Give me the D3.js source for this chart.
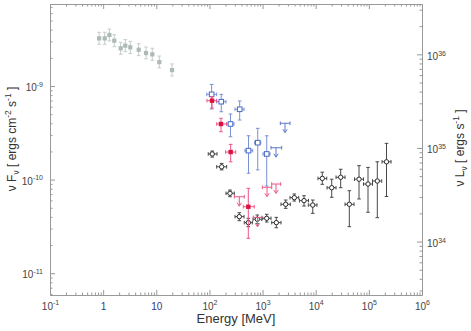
<!DOCTYPE html>
<html>
<head>
<meta charset="utf-8">
<script src="https://cdn.jsdelivr.net/npm/d3@7"></script>
<style>
  body { margin: 0; background: #fff; }
  svg { display: block; font-family: "Liberation Sans", Arial, sans-serif; }
</style>
</head>
<body>
<svg id="chart" width="471" height="331"></svg>
<script>
// ---- data (energy in MeV, nuFnu in erg cm^-2 s^-1) ----
const greyE = [0.84, 1.07, 1.31, 1.62, 2.14, 2.61, 3.24, 4.67, 6.41, 8.41, 11.4, 19.8]
const greyF = [3.23e-9, 3.23e-9, 3.51e-9, 3.05e-9, 2.53e-9, 2.70e-9, 2.59e-9, 2.44e-9, 2.25e-9, 2.18e-9, 1.80e-9, 1.48e-9]
const greyFlo = [2.79e-9, 2.79e-9, 3.03e-9, 2.63e-9, 2.18e-9, 2.33e-9, 2.23e-9, 2.11e-9, 1.95e-9, 1.88e-9, 1.56e-9, 1.28e-9]
const greyFhi = [3.75e-9, 3.75e-9, 4.06e-9, 3.53e-9, 2.93e-9, 3.13e-9, 3.00e-9, 2.83e-9, 2.61e-9, 2.53e-9, 2.09e-9, 1.72e-9]

const blueE = [110, 167, 371, 249, 544, 811, 1197]
const blueElo = [89, 137, 303, 211, 467, 711, 1019]
const blueEhi = [137, 205, 448, 290, 652, 923, 1380]
const blueF = [8.15e-10, 6.80e-10, 5.64e-10, 3.93e-10, 2.04e-10, 2.48e-10, 1.88e-10]
const blueFlo = [5.68e-10, 5.31e-10, 4.33e-10, 2.87e-10, 1.17e-10, 1.27e-10, 8.55e-11]
const blueFhi = [1.04e-9, 8.15e-10, 6.92e-10, 5.02e-10, 2.94e-10, 3.53e-10, 2.94e-10]

const blueUlE = [1790, 2643]
const blueUlElo = [1442, 2158]
const blueUlEhi = [2291, 3283]
const blueUlF = [2.19e-10, 4.00e-10]

const redE = [112, 165, 251, 539]
const redElo = [90, 137, 202, 434]
const redEhi = [136, 211, 312, 699]
const redF = [6.97e-10, 3.93e-10, 1.97e-10, 5.13e-11]
const redFlo = [5.82e-10, 3.25e-10, 1.55e-10, 2.36e-11]
const redFhi = [7.69e-10, 4.52e-10, 2.38e-10, 8.07e-11]

const redUlE = [365, 803, 1213, 1790]
const redUlElo = [294, 670, 989, 1486]
const redUlEhi = [453, 964, 1486, 2193]
const redUlF = [6.56e-11, 3.95e-11, 8.28e-11, 8.97e-11]

const blackE = [113, 170, 244, 365, 539, 796, 1197, 1815, 2723, 3955, 6026, 8790, 13300, 20000, 29500, 42900, 65300, 96400, 144200, 214800]
const blackElo = [95, 137, 205, 303, 453, 661, 1007, 1486, 2223, 3283, 4955, 7261, 11040, 16330, 24100, 35600, 53700, 79300, 117200, 177000]
const blackEhi = [139, 211, 294, 448, 641, 964, 1442, 2223, 3327, 4786, 7311, 10570, 16110, 24100, 35600, 52600, 79300, 117200, 174600, 261200]
const blackF = [1.88e-10, 1.37e-10, 7.14e-11, 4.02e-11, 3.47e-11, 3.77e-11, 3.86e-11, 3.47e-11, 5.45e-11, 6.41e-11, 5.96e-11, 5.35e-11, 1.03e-10, 8.19e-11, 1.06e-10, 5.45e-11, 1.01e-10, 8.97e-11, 9.66e-11, 1.55e-10]
const blackFlo = [1.74e-10, 1.27e-10, 6.56e-11, 3.64e-11, 3.14e-11, 3.38e-11, 3.52e-11, 3.06e-11, 4.93e-11, 5.90e-11, 5.22e-11, 4.36e-11, 8.91e-11, 6.47e-11, 8.19e-11, 3.14e-11, 6.21e-11, 4.48e-11, 3.92e-11, 6.59e-11]
const blackFhi = [2.02e-10, 1.49e-10, 7.74e-11, 4.43e-11, 3.86e-11, 4.19e-11, 4.26e-11, 3.95e-11, 6.05e-11, 7.02e-11, 6.73e-11, 6.05e-11, 1.20e-10, 1.01e-10, 1.29e-10, 7.61e-11, 1.41e-10, 1.35e-10, 1.55e-10, 2.44e-10]

// axis ticks
const xTicks = [0.1, 1, 10, 100, 1e3, 1e4, 1e5, 1e6]
const xTickBase = ["10", "1", "10", "10", "10", "10", "10", "10"]
const xTickExp = ["-1", "", "", "2", "3", "4", "5", "6"]
const yTicks = [1e-11, 1e-10, 1e-9]
const yTickExp = ["-11", "-10", "-9"]
const yRTicks = [1e34, 1e35, 1e36]
const yRTickExp = ["34", "35", "36"]
const lumFactor = 4.59e44 // nuFnu -> nuLnu

// ---- layout ----
const dims = { left: 50, right: 422, top: 4, bottom: 295 }
const svg = d3.select("#chart")

const x = d3.scaleLog().domain([0.1, 1e6]).range([dims.left, dims.right])
const y = d3.scaleLog().domain([5.85e-12, 7.52e-9]).range([dims.bottom, dims.top])
const yR = d3.scaleLog()
  .domain(y.domain().map(v => v * lumFactor))
  .range([dims.bottom, dims.top])

const minorTicks = (lo, hi) => {
  const out = []
  for (let d = Math.floor(Math.log10(lo)); d <= Math.ceil(Math.log10(hi)); d++) {
    for (let m = 2; m <= 9; m++) {
      const v = m * Math.pow(10, d)
      if (v > lo && v < hi) out.push(v)
    }
  }
  return out
}

const axisColor = "#999"
const labelColor = "#444"

// rich text helper for super/subscripts
const richText = (sel, parts, size) => {
  let shift = 0
  parts.forEach(([str, kind]) => {
    const target = kind === "sup" ? -0.42 * size : kind === "sub" ? 0.25 * size : 0
    sel.append("tspan")
      .attr("dy", target - shift)
      .attr("font-size", kind ? size * 0.7 : size)
      .text(str)
    shift = target
  })
}

const styleAxis = g => {
  g.select(".domain").attr("stroke", axisColor)
  g.selectAll(".tick line").attr("stroke", axisColor)
  g.selectAll(".tick text").remove()
}

// bottom
const gBottom = svg.append("g").attr("transform", `translate(0,${dims.bottom})`)
gBottom.append("g").call(d3.axisBottom(x).tickValues(minorTicks(0.1, 1e6)).tickSize(-2.5).tickSizeOuter(0)).call(styleAxis)
gBottom.append("g").call(d3.axisBottom(x).tickValues(xTicks).tickSize(-5).tickSizeOuter(0)).call(styleAxis)
  .selectAll(".tick").each(function (d, i) {
    const t = d3.select(this).append("text")
      .attr("y", 14.5).attr("text-anchor", "middle")
      .attr("fill", xTickExp[i] ? labelColor : "#2e3a86")
    richText(t, [[xTickBase[i], ""], [xTickExp[i], "sup"]], 10)
  })

// top
const gTop = svg.append("g").attr("transform", `translate(0,${dims.top})`)
gTop.append("g").call(d3.axisTop(x).tickValues(minorTicks(0.1, 1e6)).tickSize(-2.5).tickSizeOuter(0)).call(styleAxis)
gTop.append("g").call(d3.axisTop(x).tickValues(xTicks).tickSize(-5).tickSizeOuter(0)).call(styleAxis)

// left
const gLeft = svg.append("g").attr("transform", `translate(${dims.left},0)`)
gLeft.append("g").call(d3.axisLeft(y).tickValues(minorTicks(5.85e-12, 7.52e-9)).tickSize(-2.5).tickSizeOuter(0)).call(styleAxis)
gLeft.append("g").call(d3.axisLeft(y).tickValues(yTicks).tickSize(-5).tickSizeOuter(0)).call(styleAxis)
  .selectAll(".tick").each(function (d, i) {
    const t = d3.select(this).append("text")
      .attr("x", -7).attr("y", 4.5).attr("text-anchor", "end").attr("fill", labelColor)
    richText(t, [["10", ""], [yTickExp[i], "sup"]], 10)
  })

// right
const gRight = svg.append("g").attr("transform", `translate(${dims.right},0)`)
gRight.append("g").call(d3.axisRight(yR).tickValues(minorTicks(yR.domain()[0], yR.domain()[1])).tickSize(-2.5).tickSizeOuter(0)).call(styleAxis)
gRight.append("g").call(d3.axisRight(yR).tickValues(yRTicks).tickSize(-5).tickSizeOuter(0)).call(styleAxis)
  .selectAll(".tick").each(function (d, i) {
    const t = d3.select(this).append("text")
      .attr("x", 5).attr("y", 5).attr("text-anchor", "start").attr("fill", labelColor)
    richText(t, [["10", ""], [yRTickExp[i], "sup"]], 10)
  })

// axis titles
svg.append("text")
  .attr("x", (dims.left + dims.right) / 2).attr("y", 323)
  .attr("text-anchor", "middle").attr("font-size", 13).attr("fill", "#333")
  .text("Energy [MeV]")

const yTitle = svg.append("text")
  .attr("transform", "translate(16,139) rotate(-90)")
  .attr("text-anchor", "middle").attr("fill", "#333")
richText(yTitle, [["ν F", ""], ["ν", "sub"], [" [ ergs cm", ""], ["-2", "sup"], [" s", ""], ["-1", "sup"], [" ]", ""]], 12)

const yRTitle = svg.append("text")
  .attr("transform", "translate(464,148) rotate(-90)")
  .attr("text-anchor", "middle").attr("fill", "#333")
richText(yRTitle, [["ν L", ""], ["ν", "sub"], [" [ ergs s", ""], ["-1", "sup"], [" ]", ""]], 12)

// ---- marks ----
const plot = svg.append("g")
const cap = 1.8

const drawErrors = (E, Elo, Ehi, F, Flo, Fhi, color) => {
  const g = plot.append("g").attr("stroke", color).attr("stroke-width", 1).attr("fill", "none")
  E.forEach((e, i) => {
    const cx = x(e), cy = y(F[i])
    g.append("line").attr("x1", cx).attr("x2", cx).attr("y1", y(Flo[i])).attr("y2", y(Fhi[i]))
    g.append("line").attr("x1", cx - cap).attr("x2", cx + cap).attr("y1", y(Flo[i])).attr("y2", y(Flo[i]))
    g.append("line").attr("x1", cx - cap).attr("x2", cx + cap).attr("y1", y(Fhi[i])).attr("y2", y(Fhi[i]))
    if (Elo) {
      g.append("line").attr("x1", x(Elo[i])).attr("x2", x(Ehi[i])).attr("y1", cy).attr("y2", cy)
      g.append("line").attr("x1", x(Elo[i])).attr("x2", x(Elo[i])).attr("y1", cy - cap).attr("y2", cy + cap)
      g.append("line").attr("x1", x(Ehi[i])).attr("x2", x(Ehi[i])).attr("y1", cy - cap).attr("y2", cy + cap)
    }
  })
}

const drawUpperLimits = (E, Elo, Ehi, F, color) => {
  const g = plot.append("g").attr("stroke", color).attr("stroke-width", 1).attr("fill", "none")
  E.forEach((e, i) => {
    const cx = x(e), cy = y(F[i])
    g.append("line").attr("x1", x(Elo[i])).attr("x2", x(Ehi[i])).attr("y1", cy).attr("y2", cy)
    g.append("line").attr("x1", x(Elo[i])).attr("x2", x(Elo[i])).attr("y1", cy - cap).attr("y2", cy + cap)
    g.append("line").attr("x1", x(Ehi[i])).attr("x2", x(Ehi[i])).attr("y1", cy - cap).attr("y2", cy + cap)
    g.append("line").attr("x1", cx).attr("x2", cx).attr("y1", cy).attr("y2", cy + 9)
    g.append("path").attr("d", `M${cx - 2.2},${cy + 6}L${cx},${cy + 9.5}L${cx + 2.2},${cy + 6}`)
  })
}

// grey (low energy) points
drawErrors(greyE, null, null, greyF, greyFlo, greyFhi, "#c4ccca")
plot.append("g").selectAll("rect").data(greyE).join("rect")
  .attr("x", d => x(d) - 2.1).attr("y", (d, i) => y(greyF[i]) - 2.1)
  .attr("width", 4.2).attr("height", 4.2).attr("fill", "#adbab6")

// black open circles
drawErrors(blackE, blackElo, blackEhi, blackF, blackFlo, blackFhi, "#464a49")
plot.append("g").selectAll("circle").data(blackE).join("circle")
  .attr("cx", d => x(d)).attr("cy", (d, i) => y(blackF[i])).attr("r", 2.2)
  .attr("fill", "#fff").attr("stroke", "#2a2a2a").attr("stroke-width", 1)

// blue open squares
drawErrors(blueE, blueElo, blueEhi, blueF, blueFlo, blueFhi, "#7890d6")
drawUpperLimits(blueUlE, blueUlElo, blueUlEhi, blueUlF, "#5a78cc")
plot.append("g").selectAll("rect").data(blueE).join("rect")
  .attr("x", d => x(d) - 2.3).attr("y", (d, i) => y(blueF[i]) - 2.3)
  .attr("width", 4.6).attr("height", 4.6)
  .attr("fill", "#fff").attr("stroke", "#4a68c4").attr("stroke-width", 1)

// red filled squares
drawErrors(redE, redElo, redEhi, redF, redFlo, redFhi, "#ec5588")
drawUpperLimits(redUlE, redUlElo, redUlEhi, redUlF, "#ec5588")
plot.append("g").selectAll("rect").data(redE).join("rect")
  .attr("x", d => x(d) - 2.2).attr("y", (d, i) => y(redF[i]) - 2.2)
  .attr("width", 4.4).attr("height", 4.4).attr("fill", "#e0103c")
</script>
</body>
</html>
